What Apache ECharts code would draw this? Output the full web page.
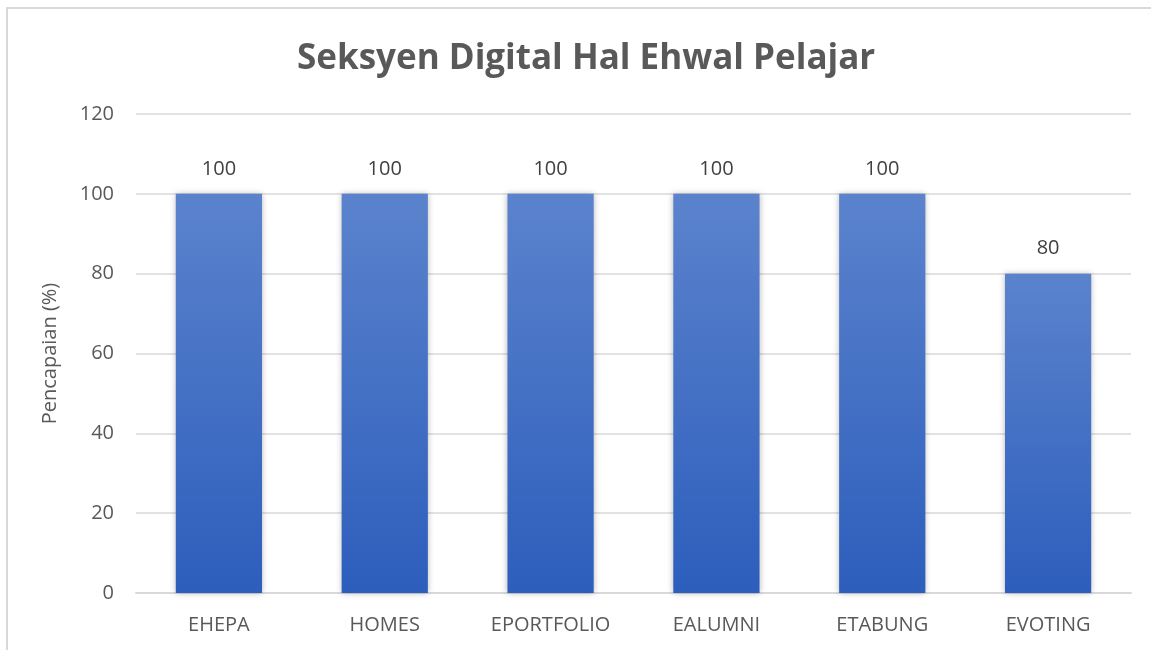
<!DOCTYPE html>
<html>
<head>
<meta charset="utf-8">
<script src="https://cdn.jsdelivr.net/npm/echarts@6/dist/echarts.min.js"></script>
<style>
  html, body { margin: 0; padding: 0; background: #fff; }
  #chart { width: 1151px; height: 650px; }
</style>
</head>
<body>
<div id="chart"></div>
<script>
// Achievement per digital system, in percent
const categories = ['EHEPA', 'HOMES', 'EPORTFOLIO', 'EALUMNI', 'ETABUNG', 'EVOTING'];
const values = [100, 100, 100, 100, 100, 80];
const yTicks = { min: 0, max: 120, interval: 20 };

const chart = echarts.init(document.getElementById('chart'), null, { renderer: 'canvas' });
const font = '"Open Sans", "Noto Sans", sans-serif';
const grey = '#595959';

chart.setOption({
  animation: false,
  backgroundColor: '#ffffff',
  title: {
    text: 'Seksyen Digital Hal Ehwal Pelajar',
    left: 292,
    top: 37,
    textStyle: { fontFamily: font, fontSize: 35, fontWeight: 'bold', color: grey }
  },
  graphic: [{
    type: 'rect',
    shape: { x: 7, y: 8, width: 1160, height: 660 },
    style: { fill: 'none', stroke: '#d9d9d9', lineWidth: 2 },
    silent: true
  }],
  grid: { left: 136, right: 20, top: 114, bottom: 57 },
  xAxis: {
    type: 'category',
    data: categories,
    axisTick: { show: false },
    axisLine: { lineStyle: { color: '#d9d9d9', width: 2 } },
    axisLabel: { color: grey, fontFamily: font, fontSize: 20, margin: 22 }
  },
  yAxis: {
    type: 'value',
    min: yTicks.min,
    max: yTicks.max,
    interval: yTicks.interval,
    name: 'Pencapaian (%)',
    nameLocation: 'middle',
    nameGap: 76,
    nameTextStyle: { color: grey, fontFamily: font, fontSize: 20 },
    axisLine: { show: false },
    axisTick: { show: false },
    axisLabel: { color: grey, fontFamily: font, fontSize: 20, margin: 22 },
    splitLine: { lineStyle: { color: '#d9d9d9', width: 1.5 } }
  },
  series: [{
    type: 'bar',
    data: values,
    barWidth: '52%',
    itemStyle: {
      color: new echarts.graphic.LinearGradient(0, 0, 0, 1, [
        { offset: 0, color: '#5b83cd' },
        { offset: 1, color: '#2d5ebc' }
      ]),
      shadowColor: 'rgba(0,0,0,0.28)',
      shadowBlur: 6,
      shadowOffsetX: 0,
      shadowOffsetY: 0
    },
    label: {
      show: true,
      position: 'top',
      distance: 15,
      color: '#404040',
      fontFamily: font,
      fontSize: 20
    }
  }]
});
</script>
</body>
</html>
